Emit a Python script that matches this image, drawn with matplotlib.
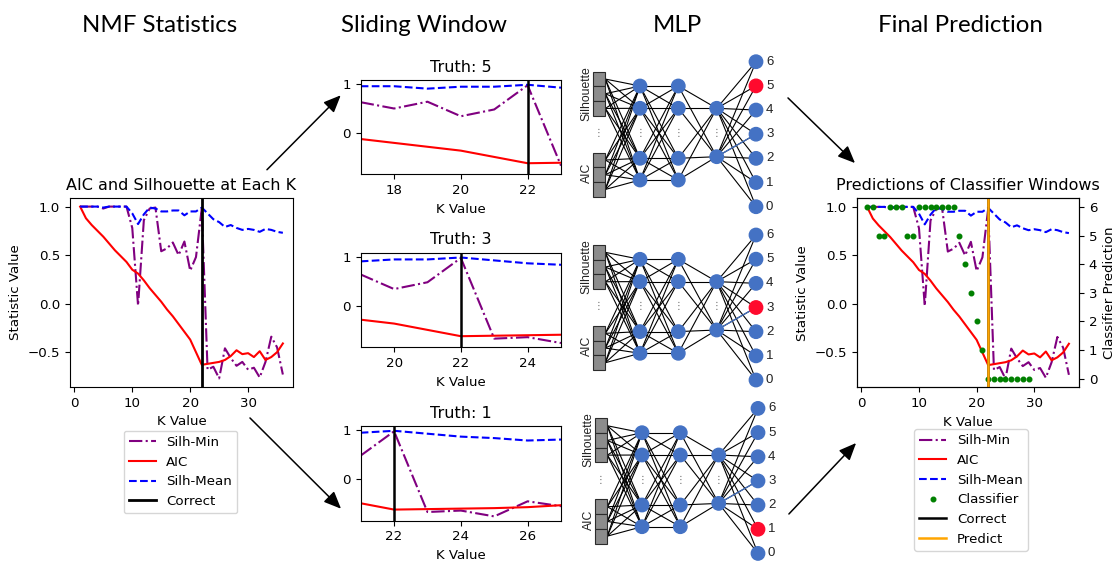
import matplotlib
matplotlib.use("Agg")
import matplotlib.pyplot as plt
from matplotlib.patches import Circle, Rectangle, FancyArrowPatch

# ---------------- data ----------------
k_values = list(range(1, 37))
silh_min = [1.00, 1.00, 1.00, 1.00, 0.98, 1.00, 1.00, 1.00, 1.00, 0.78,
            -0.02, 0.86, 0.98, 0.99, 0.54, 0.57, 0.63, 0.50, 0.64, 0.34,
            0.48, 0.98, -0.68, -0.65, -0.77, -0.46, -0.56, -0.64, -0.60, -0.68,
            -0.66, -0.76, -0.60, -0.34, -0.45, -0.73]
aic = [1.00, 0.88, 0.81, 0.75, 0.69, 0.62, 0.55, 0.49, 0.43, 0.35,
       0.31, 0.24, 0.16, 0.09, 0.02, -0.06, -0.13, -0.21, -0.29, -0.37,
       -0.50, -0.63, -0.62, -0.61, -0.60, -0.58, -0.54, -0.48, -0.52, -0.51,
       -0.55, -0.49, -0.58, -0.55, -0.50, -0.41]
silh_mean = [1.00, 1.00, 1.00, 1.00, 0.99, 1.00, 1.00, 1.00, 1.00, 0.93,
             0.82, 0.92, 0.99, 0.98, 0.95, 0.95, 0.96, 0.96, 0.91, 0.95,
             0.95, 0.99, 0.93, 0.87, 0.84, 0.79, 0.81, 0.78, 0.76, 0.77,
             0.76, 0.74, 0.77, 0.76, 0.74, 0.73]
correct_k = 22
predict_k = 22
classifier_k = list(range(1, 30))
classifier_pred = [6, 6, 5, 5, 6, 6, 6, 5, 5, 6, 6, 6, 6, 6, 6, 6, 5, 4, 3, 2, 1,
                   0, 0, 0, 0, 0, 0, 0, 0]
window_starts = [17, 19, 21]
window_truths = [5, 3, 1]
window_len = 7
output_classes = [6, 5, 4, 3, 2, 1, 0]
headings = ["NMF Statistics", "Sliding Window", "MLP", "Final Prediction"]

# ---------------- layout helpers ----------------
W, H = 1117, 566
fig = plt.figure(figsize=(W / 100, H / 100), dpi=100)
FS = 9.6
TFS = 11.5
plt.rcParams['font.size'] = FS


def rect(l, t, r, b):
    return [l / W, 1 - b / H, (r - l) / W, (b - t) / H]


def plot_stats(ax, ks, smin, a, smean):
    l1, = ax.plot(ks, smin, color='purple', ls='-.', lw=1.5, label='Silh-Min')
    l2, = ax.plot(ks, a, color='red', ls='-', lw=1.5, label='AIC')
    l3, = ax.plot(ks, smean, color='blue', ls='--', lw=1.5, label='Silh-Mean')
    return [l1, l2, l3]


# ---------------- left panel ----------------
axL = fig.add_axes(rect(70, 198, 293, 387))
hL = plot_stats(axL, k_values, silh_min, aic, silh_mean)
vc = axL.axvline(correct_k, color='black', lw=2, label='Correct')
axL.set_title("AIC and Silhouette at Each K", fontsize=TFS)
axL.set_xlabel("K Value", fontsize=FS)
axL.set_ylabel("Statistic Value", fontsize=FS)
axL.tick_params(labelsize=FS)
ylims = axL.get_ylim()
axL.legend(handles=hL + [vc], loc='upper center', bbox_to_anchor=(180.5 / W, 1 - 430.7 / H),
           bbox_transform=fig.transFigure, borderaxespad=0, fontsize=FS)

# ---------------- sliding windows ----------------
win_rects = [(360.7, 80, 561, 174.3), (360.7, 252.7, 561, 347.3), (360.7, 426, 561, 520.7)]
for (start, truth, r) in zip(window_starts, window_truths, win_rects):
    ax = fig.add_axes(rect(*r))
    i0 = k_values.index(start)
    sl = slice(i0, i0 + window_len)
    plot_stats(ax, k_values[sl], silh_min[sl], aic[sl], silh_mean[sl])
    ax.axvline(correct_k, color='black', lw=1.8)
    ax.set_xlim(start, start + window_len - 1)
    ax.set_ylim(ylims)
    ax.set_yticks([0, 1])
    ax.set_xticks(list(range(start + 1, start + window_len, 2)))
    ax.set_title(f"Truth: {truth}", fontsize=TFS)
    ax.set_xlabel("K Value", fontsize=FS)
    ax.tick_params(labelsize=FS)

# ---------------- right panel ----------------
axR = fig.add_axes(rect(857, 198.3, 1079, 387.3))
hR = plot_stats(axR, k_values, silh_min, aic, silh_mean)
axR.set_ylim(ylims)
axR.set_title("Predictions of Classifier Windows", fontsize=TFS)
axR.set_xlabel("K Value", fontsize=FS)
axR.set_ylabel("Statistic Value", fontsize=FS)
axR.tick_params(labelsize=FS)
axR2 = axR.twinx()
dots, = axR2.plot(classifier_k, classifier_pred, 'o', color='green', ms=3.3, label='Classifier')
axR2.set_ylabel("Classifier Prediction", fontsize=FS)
axR2.tick_params(labelsize=FS)
vc2 = axR2.axvline(correct_k, color='black', lw=1.8, label='Correct')
vp = axR2.axvline(predict_k, color='orange', lw=1.8, label='Predict')
axR2.legend(handles=hR + [dots, vc2, vp], loc='upper center',
            bbox_to_anchor=(971 / W, 1 - 429 / H), bbox_transform=fig.transFigure,
            borderaxespad=0, fontsize=FS)

# ---------------- overlay: headings, arrows, MLP diagrams ----------------
ov = fig.add_axes([0, 0, 1, 1], zorder=10)
ov.set_xlim(0, W)
ov.set_ylim(H, 0)
ov.axis('off')

for txt, cx in zip(headings, [159.5, 424, 677, 960]):
    ov.text(cx, 32, txt, ha='center', va='baseline', fontsize=17.3, family='Lato')

arrows = [((265, 171.7), (342.7, 93.3)), ((248, 416), (343, 510.7)),
          ((786, 96), (857, 165)), ((787, 516), (858, 441))]
for (s, e) in arrows:
    ov.add_patch(FancyArrowPatch(s, e, arrowstyle='-|>,head_length=0.7,head_width=0.3',
                                 mutation_scale=15, color='black', lw=1.1))

NODE = '#4472C4'
RED = '#FF0A2D'
LFAM = 'Liberation Sans'


def draw_mlp(dx, dy, red_cls):
    Y0 = 61.7 + dy
    xl, xr = 592.7 + dx, 605.3 + dx
    bh = 14.7
    silh_tops = [Y0 + 10 + i * bh for i in range(3)]
    aic_tops = [Y0 + 91 + i * bh for i in range(3)]
    hx = [640 + dx, 678.3 + dx, 716.7 + dx]
    ox = 756 + dx
    h12 = [Y0 + 24.3, Y0 + 46.6, Y0 + 96.6, Y0 + 118.3]
    h3 = [Y0 + 46.6, Y0 + 95]
    oy = [Y0 + i * 24.17 for i in range(len(output_classes))]
    lk = dict(color='black', lw=0.8, zorder=1)
    in_y = [t + bh / 2 for t in silh_tops + aic_tops]
    for yi in in_y:
        for yh in h12:
            ov.plot([xr, hx[0]], [yi, yh], **lk)
    for ya in h12:
        for yb in h12:
            ov.plot([hx[0], hx[1]], [ya, yb], **lk)
    for ya in h12:
        for yb in h3:
            ov.plot([hx[1], hx[2]], [ya, yb], **lk)
    for ya in h3:
        for yb in oy:
            ov.plot([hx[2], ox], [ya, yb], **lk)
    ov.plot([hx[2], ox], [h3[1], oy[output_classes.index(3)]], color=NODE, lw=0.9, zorder=1.5)
    for t in silh_tops + aic_tops:
        ov.add_patch(Rectangle((xl, t), xr - xl, bh, facecolor='#8c8c8c',
                               edgecolor='#2b2b2b', lw=0.8, zorder=3))
    for x in hx[:2]:
        for y in h12:
            ov.add_patch(Circle((x, y), 6.7, color=NODE, zorder=3))
    for y in h3:
        ov.add_patch(Circle((hx[2], y), 6.7, color=NODE, zorder=3))
    for c, y in zip(output_classes, oy):
        ov.add_patch(Circle((ox, y), 6.7, color=RED if c == red_cls else NODE, zorder=3))
        ov.text(ox + 10, y, str(c), ha='left', va='center', fontsize=9.5,
                family=LFAM, color='#222222')
    for x in [598.5 + dx] + hx:
        ov.text(x, Y0 + 71.3, '⋮', ha='center', va='center', fontsize=7,
                color='#666666', family='DejaVu Sans')
    ov.text(586.7 + dx, Y0 + 31.6, 'Silhouette', rotation=90, ha='center', va='center',
            fontsize=8.8, family=LFAM, color='#222222')
    ov.text(586.7 + dx, Y0 + 111, 'AIC', rotation=90, ha='center', va='center',
            fontsize=8.8, family=LFAM, color='#222222')


for (dx, dy), truth in zip([(0, 0), (0, 173.3), (2, 346.7)], window_truths):
    draw_mlp(dx, dy, truth)

fig.savefig("out.png", dpi=100)
